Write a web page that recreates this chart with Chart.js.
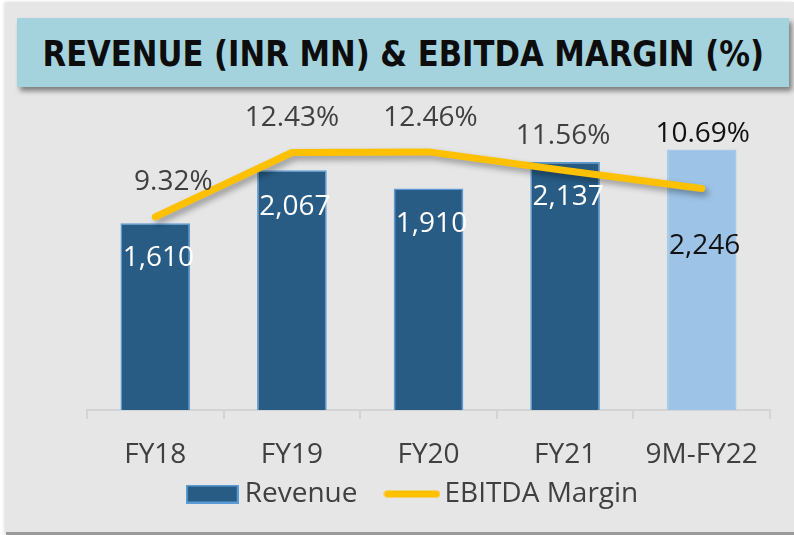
<!DOCTYPE html>
<html>
<head>
<meta charset="utf-8">
<script src="https://cdn.jsdelivr.net/npm/chart.js@4.4.1/dist/chart.umd.min.js"></script>
<style>
  html, body { margin: 0; padding: 0; background: #fff; }
  body { width: 794px; height: 535px; position: relative; overflow: hidden; }
  #panel {
    position: absolute; left: 6px; top: 2px; right: 0; bottom: 0;
    background: #e6e6e6; border-bottom: 3px solid #9a9a9a;
    box-shadow: -2px 0 3px rgba(0,0,0,0.12);
  }
  #title {
    position: absolute; left: 17px; top: 18px; width: 772px; height: 69px;
    background: #a5d3dd; box-shadow: 3px 4px 5px rgba(0,0,0,0.45);
    display: flex; align-items: center; justify-content: center;
  }
  #title span {
    font-family: "Liberation Sans Narrow", "DejaVu Sans Condensed", sans-serif; font-weight: bold;
    font-size: 35px; color: #0d0d0d; white-space: nowrap; display: inline-block;
    transform-origin: center center; position: relative; top: 1px;
  }
  #wrap { position: absolute; left: 0; top: 0; width: 794px; height: 535px; }
</style>
</head>
<body>
<div id="panel"></div>
<div id="title"><span id="titleText">REVENUE (INR MN) &amp; EBITDA MARGIN (%)</span></div>
<div id="wrap"><canvas id="chart"></canvas></div>
<script>
// values
const categories = ['FY18', 'FY19', 'FY20', 'FY21', '9M-FY22'];
const revenue = [1610, 2067, 1910, 2137, 2246];
const ebitdaMargin = [9.32, 12.43, 12.46, 11.56, 10.69];
const revenueLabels = ['1,610', '2,067', '1,910', '2,137', '2,246'];
const marginLabels = ['9.32%', '12.43%', '12.46%', '11.56%', '10.69%'];

// squeeze title to the width it has in the picture
const tt = document.getElementById('titleText');
tt.style.transform = 'scaleX(' + (721 / tt.offsetWidth) + ')';

const FONT = "'Open Sans', 'Noto Sans', sans-serif";
Chart.defaults.font.family = FONT;

// legend swatches
function swatch(w, h, draw) {
  const c = document.createElement('canvas');
  c.width = w; c.height = h;
  draw(c.getContext('2d'));
  return c;
}
const revSwatch = swatch(53, 19, ctx => {
  ctx.fillStyle = '#285c85'; ctx.fillRect(0, 0, 53, 19);
  ctx.strokeStyle = '#5b9bd5'; ctx.lineWidth = 2; ctx.strokeRect(1, 1, 51, 17);
});
const lineSwatch = swatch(57, 9, ctx => {
  ctx.strokeStyle = '#ffc000'; ctx.lineWidth = 7; ctx.lineCap = 'round';
  ctx.beginPath(); ctx.moveTo(4, 4.5); ctx.lineTo(53, 4.5); ctx.stroke();
});

// data labels drawn at the element positions the scales give
const labelPlugin = {
  id: 'valueLabels',
  afterDatasetsDraw(chart) {
    const ctx = chart.ctx;
    ctx.save();
    ctx.font = '28px ' + FONT;
    ctx.textAlign = 'center';
    ctx.textBaseline = 'middle';
    const bars = chart.getDatasetMeta(0).data;
    const barDy = [35, 37, 36, 35, 97];
    bars.forEach((el, i) => {
      ctx.fillStyle = i === 4 ? '#111' : '#fff';
      ctx.fillText(revenueLabels[i], el.x + 3, el.y + barDy[i]);
    });
    const pts = chart.getDatasetMeta(1).data;
    const ptDx = [18, 0, 2, -2, 1];
    const ptDy = [-35, -34, -34, -35, -55];
    pts.forEach((el, i) => {
      ctx.fillStyle = i === 4 ? '#111' : '#404040';
      ctx.fillText(marginLabels[i], el.x + ptDx[i], el.y + ptDy[i]);
    });
    ctx.restore();
  }
};

// soft shadow under the margin line
const shadowPlugin = {
  id: 'lineShadow',
  beforeDatasetDraw(chart, args) {
    if (args.index !== 1) return;
    const ctx = chart.ctx;
    ctx.save();
    ctx.shadowColor = 'rgba(0,0,0,0.35)';
    ctx.shadowBlur = 6;
    ctx.shadowOffsetX = 3;
    ctx.shadowOffsetY = 4;
  },
  afterDatasetDraw(chart, args) {
    if (args.index !== 1) return;
    chart.ctx.restore();
  }
};

// legend padding is wide for horizontal spacing; take the extra height back
const legendFit = {
  id: 'legendFit',
  afterInit(chart) {
    const lg = chart.legend, fit = lg.fit;
    lg.fit = function () { fit.call(this); this.height -= 13; };
  },
  afterLayout(chart) { chart.legend.top -= 30; }
};

new Chart(document.getElementById('chart'), {
  type: 'bar',
  data: {
    labels: categories,
    datasets: [
      {
        type: 'bar', label: 'Revenue', data: revenue, yAxisID: 'y',
        backgroundColor: ['#285c85', '#285c85', '#285c85', '#285c85', '#9dc3e6'],
        borderColor: ['#5b9bd5', '#5b9bd5', '#5b9bd5', '#5b9bd5', '#a8c9e8'],
        borderWidth: 1.5, categoryPercentage: 1, barPercentage: 0.51, order: 2
      },
      {
        type: 'line', label: 'EBITDA Margin', data: ebitdaMargin, yAxisID: 'y2',
        borderColor: '#ffc000', backgroundColor: '#ffc000', borderWidth: 7,
        borderCapStyle: 'round', borderJoinStyle: 'round',
        pointRadius: 0, tension: 0, order: 1
      }
    ]
  },
  options: {
    responsive: true, maintainAspectRatio: false, animation: false,
    layout: { padding: { left: 62, right: 24, top: 120, bottom: 0 } },
    plugins: {
      tooltip: { enabled: false },
      legend: {
        position: 'bottom',
        labels: {
          usePointStyle: true, pointStyleWidth: 37, boxHeight: 19,
          color: '#404040', font: { size: 28 }, padding: 36,
          sort: (a, b) => a.datasetIndex - b.datasetIndex,
          generateLabels(chart) {
            const items = Chart.defaults.plugins.legend.labels.generateLabels(chart);
            items.forEach(it => {
              it.pointStyle = it.datasetIndex === 0 ? revSwatch : lineSwatch;
            });
            return items;
          }
        }
      }
    },
    scales: {
      x: {
        grid: { offset: true, drawOnChartArea: false, drawTicks: true, tickLength: 9, color: '#d4d4d4', lineWidth: 2 },
        border: { display: true, color: '#d4d4d4', width: 2 },
        ticks: { color: '#404040', font: { size: 28 }, padding: 19, maxRotation: 0 },
        afterFit(scale) { scale.height = 64; }
      },
      y: {
        min: 0, max: 2500, display: true,
        grid: { display: false }, border: { display: false }, ticks: { display: false },
        afterFit(scale) { scale.width = 25; }
      },
      y2: { min: 0, max: 14, display: false, position: 'right' }
    }
  },
  plugins: [shadowPlugin, labelPlugin, legendFit]
});
</script>
</body>
</html>
